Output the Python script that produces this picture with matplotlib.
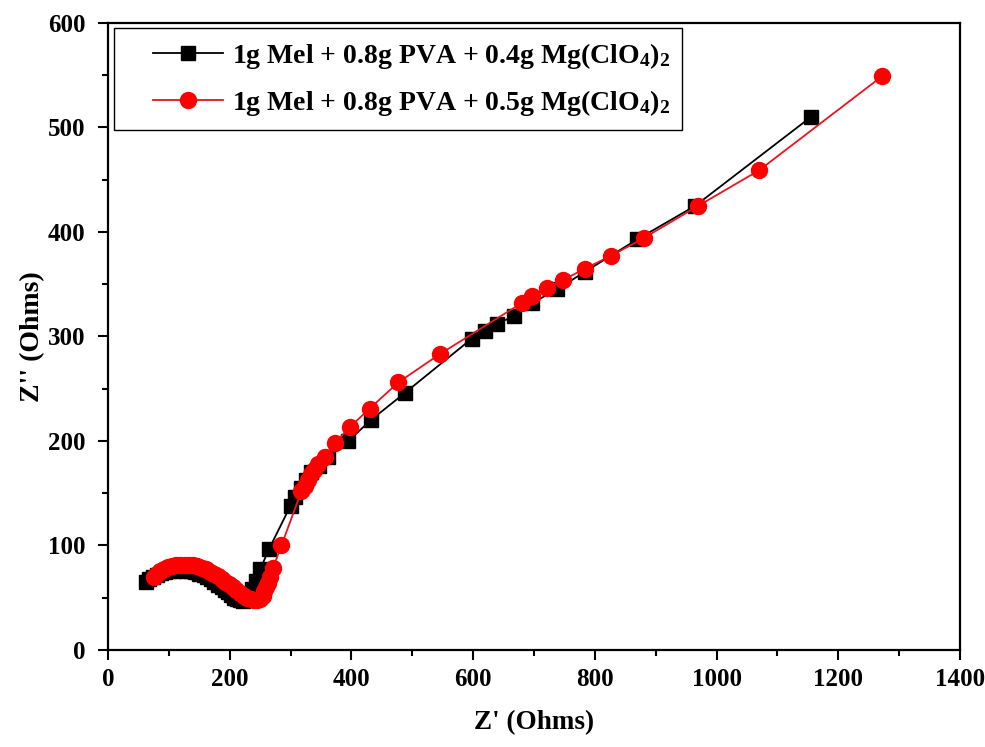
import matplotlib
matplotlib.use('Agg')
import matplotlib.pyplot as plt
from matplotlib.ticker import MultipleLocator
from matplotlib.legend_handler import HandlerLine2D

plt.rcParams['font.family'] = ['Liberation Serif', 'DejaVu Serif']
plt.rcParams['font.weight'] = 'bold'
plt.rcParams['mathtext.fontset'] = 'custom'
plt.rcParams['mathtext.rm'] = 'Liberation Serif:bold'
plt.rcParams['mathtext.it'] = 'Liberation Serif:bold'
plt.rcParams['mathtext.bf'] = 'Liberation Serif:bold'

# 0.4 g Mg(ClO4)2 sample
z_re_04 = [63, 68, 74, 80, 87, 94, 101, 108, 115, 122, 129, 136, 143, 150,
           157, 163, 169, 175, 181, 187, 192, 197, 202, 207, 212, 217, 222,
           227, 232, 237, 243, 250, 265, 300, 308, 318, 326, 334, 346, 362,
           395, 432, 488, 598, 620, 640, 668, 697, 738, 784, 870, 965, 1155]
z_im_04 = [65, 68, 70, 72, 73.5, 74.5, 75.5, 76, 76.5, 76.5, 76, 75.5, 74.5,
           73, 71.5, 69.5, 67.5, 65, 62.5, 60, 57.5, 55, 52.5, 50, 48.5, 47.5,
           47, 48, 52, 58, 66, 77, 97, 138, 146, 155, 163, 170, 176, 185,
           200, 220, 246, 298, 305, 312, 320, 332, 345, 362, 393, 425, 510]

# 0.5 g Mg(ClO4)2 sample
z_re_05 = [75, 80, 86, 92, 98, 105, 112, 119, 126, 133, 140, 147, 154, 161,
           168, 175, 181, 187, 193, 199, 205, 211, 217, 223, 229, 235, 240,
           245, 250, 254, 257, 260, 263, 267, 271, 285, 318, 323, 328, 333,
           338, 345, 356, 373, 397, 430, 477, 545, 680, 696, 721, 748, 784,
           826, 880, 970, 1070, 1272]
z_im_05 = [70, 73, 75.5, 77.5, 79, 80, 81, 81.5, 81.5, 81.5, 81, 80, 78.5, 77,
           75, 73, 70.5, 68, 65.5, 63, 60, 57, 54.5, 52, 50, 48.5, 47.5, 47.5,
           49, 52, 56, 60, 64, 70, 78, 100, 152, 157, 163, 168, 172, 178, 185,
           198, 213, 231, 256, 283, 332, 339, 346, 354, 365, 377, 394, 425,
           459, 549]

label_04 = '1g Mel + 0.8g PVA + 0.4g Mg(ClO$_4$)$_2$'
label_05 = '1g Mel + 0.8g PVA + 0.5g Mg(ClO$_4$)$_2$'


# legend handle drawn only over the right part of the handle box,
# so there is a wider empty gap at the left of the legend
class ShiftedLine(HandlerLine2D):
    def create_artists(self, legend, orig_handle, xdescent, ydescent,
                       width, height, fontsize, trans):
        shift = 0.28 * width
        return super().create_artists(legend, orig_handle, xdescent - shift,
                                       ydescent, width - shift, height,
                                       fontsize, trans)


fig = plt.figure(figsize=(9.85, 7.47), dpi=100)
ax = fig.add_axes([0.1096, 0.1299, 0.8650, 0.8394])

ax.plot(z_re_04, z_im_04, color='black', marker='s', markersize=10,
        linewidth=1.3, label=label_04)
ax.plot(z_re_05, z_im_05, color='#e8141e', marker='o', markersize=11.5,
        markerfacecolor='red', markeredgecolor='red', linewidth=1.3,
        label=label_05)

ax.set_xlim(0, 1400)
ax.set_ylim(0, 600)
ax.xaxis.set_major_locator(MultipleLocator(200))
ax.xaxis.set_minor_locator(MultipleLocator(100))
ax.yaxis.set_major_locator(MultipleLocator(100))
ax.yaxis.set_minor_locator(MultipleLocator(50))

for s in ax.spines.values():
    s.set_linewidth(1.6)
ax.tick_params(which='both', direction='out', width=1.5, top=False, right=False)
ax.tick_params(which='major', length=7, labelsize=18)
ax.tick_params(axis='x', which='major', pad=6)
ax.tick_params(axis='y', which='major', pad=9)
ax.tick_params(which='minor', length=4)
for lab in ax.get_xticklabels() + ax.get_yticklabels():
    lab.set_fontweight('bold')

ax.set_xlabel("Z' (Ohms)", fontsize=19.5, fontweight='bold', labelpad=14)
ax.set_ylabel("Z'' (Ohms)", fontsize=20, fontweight='bold', labelpad=2)

leg = ax.legend(loc='upper left', fontsize=20, numpoints=1, handlelength=3.5,
                handletextpad=0.3, fancybox=False, framealpha=1,
                edgecolor='black', borderaxespad=0.2, borderpad=0.45,
                labelspacing=0.6, handler_map={plt.Line2D: ShiftedLine()})
leg.get_frame().set_linewidth(1.0)
for t in leg.get_texts():
    t.set_fontweight('bold')

plt.savefig('out.png', dpi=100)
